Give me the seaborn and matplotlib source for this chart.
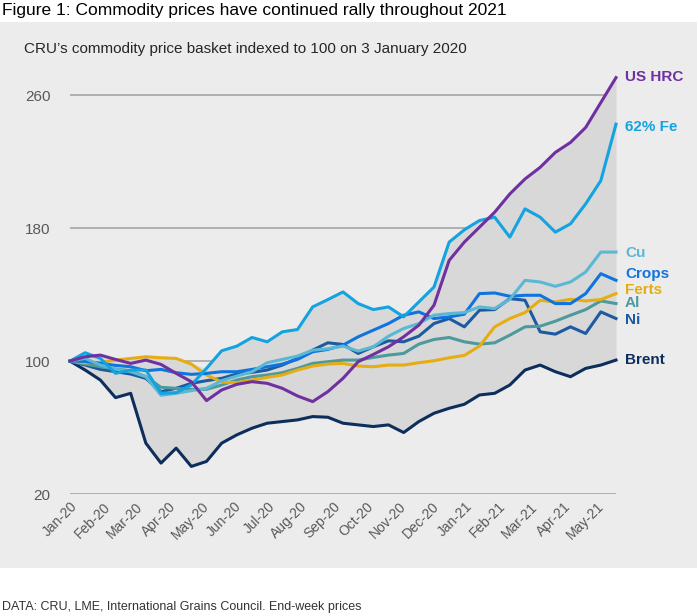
import numpy as np
import pandas as pd
import matplotlib
matplotlib.use("Agg")
import matplotlib.pyplot as plt
from matplotlib.patches import Rectangle
import seaborn as sns

# fortnightly index values, 3 Jan 2020 -> end May 2021
us_hrc = [100, 102.6, 103.6, 101, 98.6, 100.6, 98, 92.6, 87.6, 76.2, 82.6, 86, 87.6, 86.6, 83.6, 79, 75.6, 81.6,
          89.6, 99.6, 104, 108.6, 114.6, 121.6, 133.6, 160.6, 171.6, 180.6, 189.6, 200.6, 209.6, 216.6, 225.6,
          231.6, 240.6, 255.6, 270.6]
fe62 = [100, 105, 101.6, 92.6, 94.6, 94.6, 80.6, 81, 85.6, 95.6, 106.2, 109, 114.2, 111.6, 117.6, 119, 132.6, 137,
        141.6, 134.6, 131, 132.6, 126.6, 135.6, 144.6, 171.6, 179, 184.6, 186.6, 174.6, 191.6, 186.6, 177.6,
        182.6, 194.6, 208.6, 242.6]
cu = [100, 101.6, 97.6, 95.2, 93.6, 90.6, 79.4, 80.6, 82.2, 83.6, 88.2, 91, 93.6, 99, 101, 103, 106.6, 107.4, 109,
      106, 108.6, 115, 119.6, 122.6, 127.6, 128.6, 129.2, 132.6, 131.6, 137.2, 148.6, 147.6, 145, 147.6, 153.6,
      165.6, 165.6]
crops = [100, 99.8, 98.6, 97.4, 96.6, 94.2, 95, 93, 92, 92.6, 93.6, 93.6, 95, 96.6, 98.2, 101, 105.6, 107, 109.6,
         114.6, 118.6, 122.6, 127.6, 129.6, 125.6, 126.6, 128.2, 140.6, 141, 139, 139.6, 139.6, 134.6, 134.6,
         140.6, 152.6, 148.6]
ferts = [100, 99, 99.2, 100.6, 101.6, 102.6, 102, 101.6, 98.2, 91.6, 87.4, 87, 88.6, 90.2, 91.6, 94.6, 97, 98.2,
         98.6, 97, 96.6, 97.6, 97.6, 99, 100.2, 102, 103.4, 109, 120.6, 125.6, 129.2, 136.6, 135.6, 137.2, 136.2,
         137, 140.6]
al = [100, 98.2, 96.6, 95.2, 94.2, 90.6, 84.2, 83.6, 83, 83, 85.6, 88.6, 90.6, 91.6, 93, 95.6, 98.6, 99.6, 100.6,
      100.6, 102.2, 103.6, 104.6, 110.2, 113, 114.2, 111.6, 110.2, 111, 115.6, 120.6, 121, 124, 127.6, 131,
      136.2, 134.6]
ni = [100, 97.6, 95, 93.6, 92.2, 89.6, 81.6, 83.6, 86.6, 88.2, 89.6, 92.2, 93.2, 94.6, 97.6, 101.6, 106.6, 111,
      110, 104.6, 108.6, 112.2, 111.6, 115, 122.6, 125.6, 120.6, 130.6, 131, 137.6, 136.6, 117.6, 116.2, 120.6,
      116.6, 129.6, 125.6]
brent = [100, 94.6, 88.6, 78, 80.6, 50.6, 38.6, 47.6, 36.6, 39.6, 50.6, 55.6, 59.6, 62.6, 63.6, 64.6, 66.6, 66.2,
         62.6, 61.6, 60.6, 61.6, 57, 63.6, 68.6, 71.6, 74, 79.6, 80.6, 85.6, 94.6, 97.6, 93.6, 90.6, 95.6, 97.6,
         100.6]

names = ["US HRC", "62% Fe", "Cu", "Crops", "Ferts", "Al", "Ni", "Brent"]
series = [us_hrc, fe62, cu, crops, ferts, al, ni, brent]
colors = ["#7030a0", "#12a3e0", "#5bb8d4", "#1074e0", "#e6ad12", "#4c9a9c", "#1d5aa0", "#0d2e5c"]
label_y = [270.8, 240.6, 165, 152.4, 142.7, 134.9, 124.7, 100.6]
months = ["Jan-20", "Feb-20", "Mar-20", "Apr-20", "May-20", "Jun-20", "Jul-20", "Aug-20", "Sep-20", "Oct-20",
          "Nov-20", "Dec-20", "Jan-21", "Feb-21", "Mar-21", "Apr-21", "May-21"]

wide = pd.DataFrame(dict(zip(names, series)))
wide["t"] = np.arange(len(wide))
df = wide.melt(id_vars="t", var_name="series", value_name="value")

plt.rcParams["font.family"] = ["Liberation Sans", "DejaVu Sans"]
fig = plt.figure(figsize=(6.98, 6.16), dpi=100)
fig.patch.set_facecolor("white")
fig.add_artist(Rectangle((0, 1 - 568 / 616), 697 / 698, 546 / 616, transform=fig.transFigure,
                         facecolor="#ececec", edgecolor="none", zorder=-10))

ax = fig.add_axes([70 / 698, 1 - 494 / 616, 546 / 698, 432 / 616])
ax.set_facecolor("none")

lo = wide[names].min(axis=1)
hi = wide[names].max(axis=1)
ax.fill_between(wide["t"], lo, hi, color="#d8d8d8", zorder=1, linewidth=0)

sns.lineplot(data=df, x="t", y="value", hue="series", hue_order=names[::-1],
             palette=dict(zip(names, colors)), linewidth=2.2, legend=False, ax=ax, zorder=3)
for ln in ax.lines:
    ln.set_clip_on(False)

for nm, c, y in zip(names, colors, label_y):
    ax.text(36.6, y, nm, color=c, fontsize=11, fontweight="bold", va="center", ha="left")

ax.set_xlim(0, 36)
ax.set_ylim(20, 280)
ax.set_yticks([20, 100, 180, 260])
ax.yaxis.grid(True, color="#a6a6a6", linewidth=1.2)
ax.xaxis.grid(False)
ax.set_axisbelow(True)
ax.set_xticks([m * 2.17 for m in range(len(months))])
ax.set_xticklabels(months, rotation=45, ha="right", rotation_mode="anchor", color="#595959", fontsize=10)
ax.tick_params(axis="y", colors="#595959", labelsize=11, length=0, pad=14)
ax.tick_params(axis="x", length=0, pad=4)
for s in ax.spines.values():
    s.set_visible(False)
ax.set_xlabel("")
ax.set_ylabel("")

fig.text(0.003, 1 - 11 / 616, "Figure 1: Commodity prices have continued rally throughout 2021",
         fontsize=12.5, va="center", ha="left", color="black")
fig.text(24 / 698, 1 - 49 / 616, "CRU\u2019s commodity price basket indexed to 100 on 3 January 2020",
         fontsize=11, va="center", ha="left", color="#262626")
fig.text(0.003, 1 - 607 / 616, "DATA: CRU, LME, International Grains Council. End-week prices",
         fontsize=9, va="center", ha="left", color="#333333")

fig.savefig("out.png", dpi=100, facecolor="white")
